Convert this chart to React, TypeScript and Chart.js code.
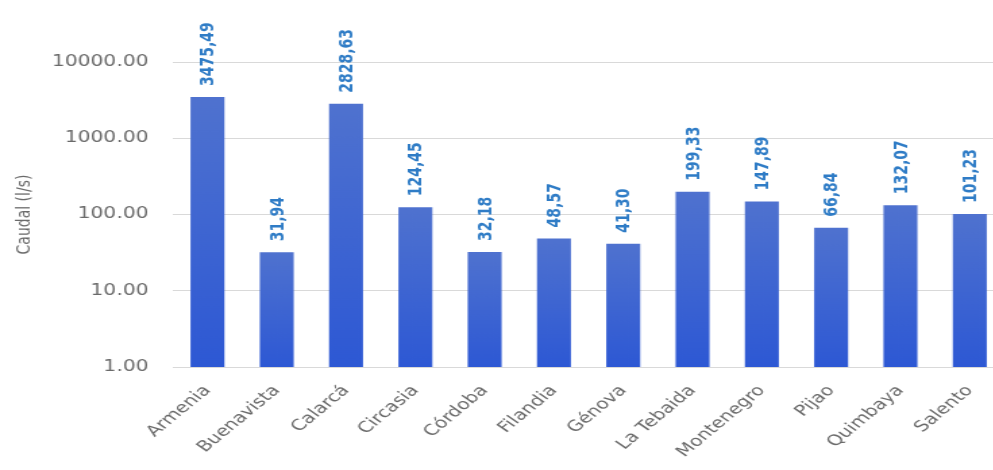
import React, { useEffect, useRef } from "react";
import { Chart, registerables } from "chart.js";

Chart.register(...registerables);

const categories = [
  "Armenia", "Buenavista", "Calarcá", "Circasia", "Córdoba", "Filandia",
  "Génova", "La Tebaida", "Montenegro", "Pijao", "Quimbaya", "Salento",
];
const caudal = [3475.49, 31.94, 2828.63, 124.45, 32.18, 48.57, 41.3, 199.33, 147.89, 66.84, 132.07, 101.23];
const yTicks = [1, 10, 100, 1000, 10000];
const yTitle = "Caudal (l/s)";

const SX = 1.35;
const FONT = "'DejaVu Sans', sans-serif";

const labelPlugin = {
  id: "barLabels",
  afterDatasetsDraw(chart: any) {
    const ctx = chart.ctx;
    const meta = chart.getDatasetMeta(0);
    ctx.save();
    ctx.font = `bold 14px ${FONT}`;
    ctx.fillStyle = "#2f7cc6";
    ctx.textAlign = "left";
    ctx.textBaseline = "middle";
    meta.data.forEach((el: any, i: number) => {
      const txt = caudal[i].toFixed(2).replace(".", ",");
      ctx.save();
      ctx.translate(el.x + 1, el.y - 11);
      ctx.rotate(-Math.PI / 2);
      ctx.fillText(txt, 0, 0);
      ctx.restore();
    });
    ctx.restore();
  },
};

export default function App() {
  const ref = useRef<HTMLCanvasElement | null>(null);
  useEffect(() => {
    if (!ref.current) return;
    const chart = new Chart(ref.current, {
      type: "bar",
      data: {
        labels: categories,
        datasets: [
          {
            data: caudal,
            barPercentage: 0.49,
            categoryPercentage: 1,
            backgroundColor: (c: any) => {
              const chart = c.chart;
              const area = chart.chartArea;
              if (!area || c.dataIndex === undefined) return "#3a62d0";
              const yS = chart.scales.y;
              const top = yS.getPixelForValue(caudal[c.dataIndex]);
              const g = chart.ctx.createLinearGradient(0, top, 0, area.bottom);
              g.addColorStop(0, "#4f72cf");
              g.addColorStop(1, "#2d58d4");
              return g;
            },
            borderWidth: 0,
          },
        ],
      },
      options: {
        animation: false,
        responsive: true,
        maintainAspectRatio: false,
        layout: { padding: { top: 62, left: 0, right: 0, bottom: 0 } },
        plugins: { legend: { display: false }, tooltip: { enabled: false } },
        scales: {
          x: {
            grid: { display: false },
            border: { display: false },
            ticks: {
              minRotation: 48,
              maxRotation: 48,
              autoSkip: false,
              color: "#6a6a6a",
              font: { family: FONT, size: 15 },
              padding: 7,
            },
            afterFit: (s: any) => {
              s.height = 103;
            },
          },
          y: {
            type: "logarithmic",
            min: 1,
            max: 10000,
            afterBuildTicks: (s: any) => {
              s.ticks = yTicks.map((v) => ({ value: v }));
            },
            afterFit: (s: any) => {
              s.width = 128;
            },
            grid: { color: "#d9d9d9", drawTicks: false, lineWidth: 1 },
            border: { display: false },
            ticks: {
              padding: 18,
              color: "#6a6a6a",
              font: { family: FONT, size: 15 },
              callback: (v: any) => Number(v).toFixed(2),
            },
            title: {
              display: true,
              text: yTitle,
              color: "#6a6a6a",
              font: { family: FONT, size: 14 },
              padding: { top: 10, bottom: 0 },
            },
          },
        },
      },
      plugins: [labelPlugin],
    });
    return () => chart.destroy();
  }, []);

  return (
    <div
      style={{
        position: "fixed",
        left: 0,
        top: 0,
        width: 993,
        height: 470,
        overflow: "hidden",
        background: "#ffffff",
      }}
    >
      <div
        style={{
          position: "absolute",
          left: 0,
          top: 0,
          width: 744,
          height: 470,
          transform: `scaleX(${SX})`,
          transformOrigin: "0 0",
        }}
      >
        <canvas ref={ref} />
      </div>
    </div>
  );
}
